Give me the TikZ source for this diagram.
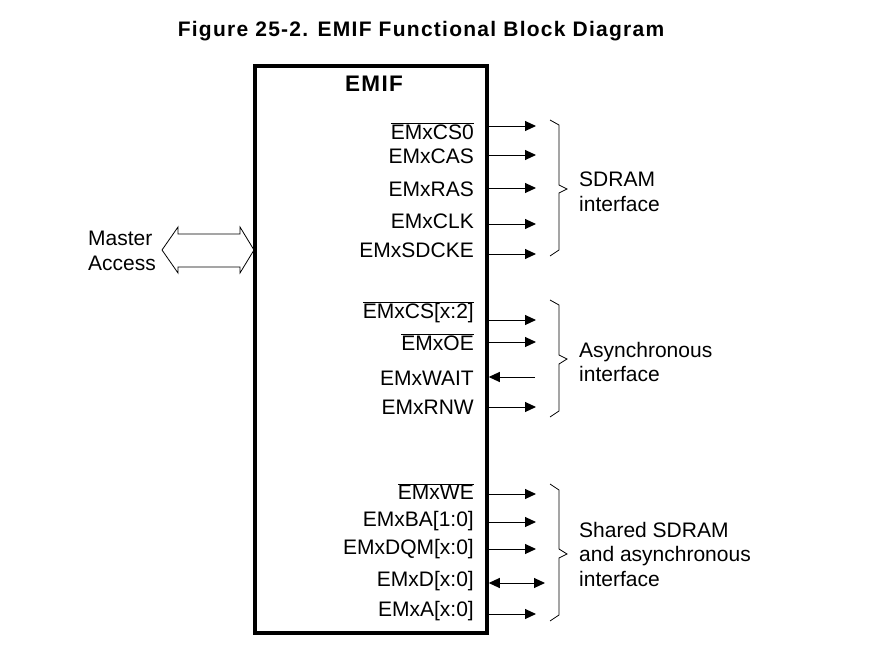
\documentclass[tikz,border=0pt]{standalone}
\usepackage{fontspec}
\setmainfont{Liberation Sans}
\usetikzlibrary{arrows.meta,positioning}

\tikzset{
  pinlbl/.style={font=\fontsize{21}{22}\selectfont, anchor=east, inner sep=0pt},
  grplbl/.style={font=\fontsize{21}{24.5}\selectfont, anchor=west, align=left, inner sep=0pt},
  sigout/.style={-{Triangle[length=11pt,width=10pt]}, line width=1pt},
  sigboth/.style={{Triangle[length=11pt,width=10pt]}-{Triangle[length=11pt,width=10pt]}, line width=1pt},
  brc/.style={line width=0.8pt, line join=miter}
}
\newcommand{\ovl}[1]{$\overline{\mbox{#1}}$}

\begin{document}
\begin{tikzpicture}[x=1pt,y=-1pt]
  \useasboundingbox[fill=white] (0,0) rectangle (879,653);
  % Title
  \node[font=\fontsize{21}{22}\selectfont\bfseries\addfontfeatures{LetterSpace=6}] (title) at (421,31) {Figure 25-2. EMIF Functional Block Diagram};
  % EMIF block
  \node[draw, line width=3.5pt, minimum width=232pt, minimum height=567pt, inner sep=0pt] (emif) at (371,349.5) {};
  \node[font=\fontsize{22.5}{24}\selectfont\bfseries\addfontfeatures{LetterSpace=6}] (emiflbl) at (374,84) {EMIF};
  % Master access (hollow two-way arrow)
  \draw[line width=0.8pt, line join=miter] (162,250) -- (178,227) -- (178,234) -- (240,234) -- (240,227) -- (254,250)
    -- (240,273) -- (240,267) -- (178,267) -- (178,273) -- cycle;
  \node[grplbl] (master) at (88,251) {Master\\Access};
  % SDRAM pins
  \coordinate (cs0) at (536,126);
  \coordinate (cas) at (536,155);
  \coordinate (ras) at (536,188);
  \coordinate (clk) at (536,224);
  \coordinate (sdcke) at (536,254);
  \draw[sigout] (emif.east |- cs0) -- (cs0);
  \draw[sigout] (emif.east |- cas) -- (cas);
  \draw[sigout] (emif.east |- ras) -- (ras);
  \draw[sigout] (emif.east |- clk) -- (clk);
  \draw[sigout] (emif.east |- sdcke) -- (sdcke);
  \node[pinlbl] (cs0lbl) at (474,131) {\ovl{EMxCS0}};
  \node[pinlbl] (caslbl) at (474,156) {EMxCAS};
  \node[pinlbl] (raslbl) at (474,189) {EMxRAS};
  \node[pinlbl] (clklbl) at (474,221) {EMxCLK};
  \node[pinlbl] (sdckelbl) at (474,250) {EMxSDCKE};
  % Asynchronous pins
  \coordinate (csx) at (536,320);
  \coordinate (oe) at (536,342);
  \coordinate (wait) at (535,377);
  \coordinate (rnw) at (536,407);
  \draw[sigout] (emif.east |- csx) -- (csx);
  \draw[sigout] (emif.east |- oe) -- (oe);
  \draw[sigout] (wait) -- (emif.east |- wait);
  \draw[sigout] (emif.east |- rnw) -- (rnw);
  \node[pinlbl] (csxlbl) at (474,312) {\ovl{EMxCS[x:2]}};
  \node[pinlbl] (oelbl) at (474,342.5) {\ovl{EMxOE}};
  \node[pinlbl] (waitlbl) at (474,378) {EMxWAIT};
  \node[pinlbl] (rnwlbl) at (474,407) {EMxRNW};
  % Shared pins
  \coordinate (we) at (536,494);
  \coordinate (ba) at (536,522);
  \coordinate (dqm) at (536,549);
  \coordinate (dat) at (545,583);
  \coordinate (adr) at (536,614);
  \draw[sigout] (emif.east |- we) -- (we);
  \draw[sigout] (emif.east |- ba) -- (ba);
  \draw[sigout] (emif.east |- dqm) -- (dqm);
  \draw[sigboth] (emif.east |- dat) -- (dat);
  \draw[sigout] (emif.east |- adr) -- (adr);
  \node[pinlbl] (welbl) at (474,491.5) {\ovl{EMxWE}};
  \node[pinlbl] (balbl) at (474,521) {EMxBA[1:0]};
  \node[pinlbl] (dqmlbl) at (474,549) {EMxDQM[x:0]};
  \node[pinlbl] (datlbl) at (474,581) {EMxD[x:0]};
  \node[pinlbl] (adrlbl) at (474,611.5) {EMxA[x:0]};
  % Braces
  \draw[brc] (550,120) -- (559,125) -- (559,185) -- (567,189) -- (559,193) -- (559,250) -- (550,256);
  \draw[brc] (550,300) -- (559,305) -- (559,355) -- (567,359) -- (559,364) -- (559,411) -- (550,417);
  \draw[brc] (550,484) -- (559,490) -- (559,549) -- (567,554) -- (559,558) -- (559,615) -- (550,621);
  \node[grplbl] (sdramlbl) at (579,192) {SDRAM\\interface};
  \node[grplbl] (asynclbl) at (579,362) {Asynchronous\\interface};
  \node[grplbl] (sharedlbl) at (579,554) {Shared SDRAM\\and asynchronous\\interface};
\end{tikzpicture}
\end{document}
